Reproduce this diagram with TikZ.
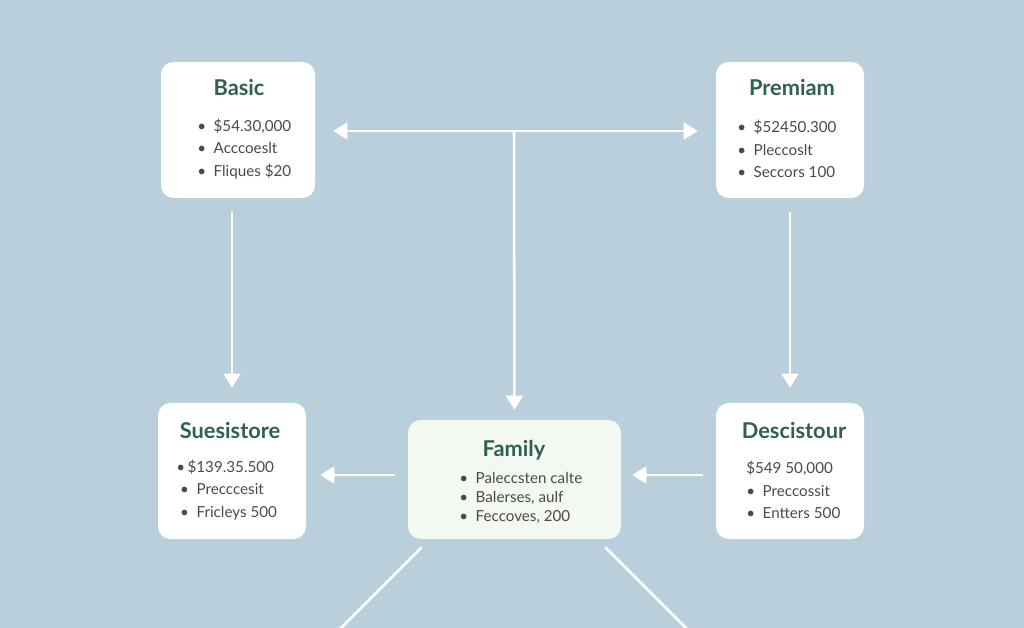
\documentclass[tikz,border=0pt]{standalone}
\usepackage{fontspec}
\setmainfont{Lato}
\usepackage{xcolor}
\usepackage{tikz}
\usetikzlibrary{arrows.meta}
\usetikzlibrary{positioning}
\definecolor{bgblue}{HTML}{B9D0DC}
\definecolor{titlegreen}{HTML}{2F5F55}
\definecolor{bodygray}{HTML}{4A4A4A}
\definecolor{familyfill}{HTML}{F3F8F1}
\tikzstyle{planbox} = [draw=none, fill=white, rounded corners=9pt, inner sep=0pt]
\tikzstyle{plantitle} = [text=titlegreen, font=\fontsize{15.5}{17}\selectfont\bfseries]
\tikzstyle{planlist} = [text=bodygray, anchor=west, align=left, inner sep=0pt,
  font=\fontsize{10.8}{15.8}\selectfont]
\tikzstyle{arrow} = [draw=white, line width=1.8pt, -{Triangle[width=12pt,length=10pt]}]
\tikzstyle{plainline} = [draw=white, line width=1.8pt]

\begin{document}
\begin{tikzpicture}[x=0.025cm, y=-0.025cm]
\useasboundingbox[fill=bgblue] (0, 0) rectangle (1024, 628);
\clip (0, 0) rectangle (1024, 628);

%% top row
\node[planbox, minimum width=154*0.025cm, minimum height=136*0.025cm] (basic) at (238, 130) {};
\node[plantitle] (basictitle) at (239, 88) {Basic};
\node[planlist] (basiclist) at (197, 149) {%
  \textbullet\enspace\$54.30,000\\
  \textbullet\enspace Acccoeslt\\
  \textbullet\enspace Fliques \$20};

\node[planbox, minimum width=148*0.025cm, minimum height=136*0.025cm] (premium) at (790, 130) {};
\node[plantitle] (premiumtitle) at (792, 88) {Premiam};
\node[planlist] (premiumlist) at (737, 149) {%
  \textbullet\enspace\$52450.300\\
  \textbullet\enspace Pleccoslt\\
  \textbullet\enspace Seccors 100};

%% bottom row
\node[planbox, minimum width=148*0.025cm, minimum height=136*0.025cm] (sues) at (232, 471) {};
\node[plantitle] (suestitle) at (230, 431) {Suesistore};
\node[planlist] (sueslist) at (176, 490) {%
  \textbullet\,\$139.35.500\\
  \ \textbullet\enspace Precccesit\\
  \ \textbullet\enspace Fricleys 500};

\node[planbox, fill=familyfill, minimum width=213*0.025cm, minimum height=119*0.025cm] (family) at (514.5, 479.5) {};
\node[plantitle] (familytitle) at (514, 450) {Family};
\node[planlist, font=\fontsize{10.8}{13.5}\selectfont] (familylist) at (459, 498) {%
  \textbullet\enspace Paleccsten calte\\
  \textbullet\enspace Balerses, aulf\\
  \textbullet\enspace Feccoves, 200};

\node[planbox, minimum width=148*0.025cm, minimum height=136*0.025cm] (desc) at (790, 471) {};
\node[plantitle] (desctitle) at (794, 431) {Descistour};
\node[planlist] (desclist) at (746, 490) {%
  \$549 50,000\\
  \textbullet\enspace Preccossit\\
  \textbullet\enspace Entters 500};

%% connectors
\coordinate (hub) at (514, 131);
\draw[arrow, {Triangle[width=12pt,length=10pt]}-{Triangle[width=12pt,length=10pt]},
  shorten <=18*0.025cm, shorten >=18*0.025cm] (basic.east |- hub) -- (premium.west |- hub);
\draw[arrow, shorten >=10*0.025cm] (hub) -- (family.north);
\draw[arrow, shorten <=14*0.025cm, shorten >=15*0.025cm] ([xshift=-6*0.025cm]basic.south) -- (sues.north);
\draw[arrow, shorten <=14*0.025cm, shorten >=15*0.025cm] (premium.south) -- (desc.north -| premium.south);
\draw[arrow, shorten <=13*0.025cm, shorten >=14*0.025cm] (family.west |- 0, 475) -- (sues.east |- 0, 475);
\draw[arrow, shorten <=13*0.025cm, shorten >=11*0.025cm] (desc.west |- 0, 475) -- (family.east |- 0, 475);
\draw[plainline] ([shift={(14, 8)}]family.south west) -- ++(-90, 90);
\draw[plainline] ([shift={(-16, 8)}]family.south east) -- ++(90, 90);
\end{tikzpicture}
\end{document}
